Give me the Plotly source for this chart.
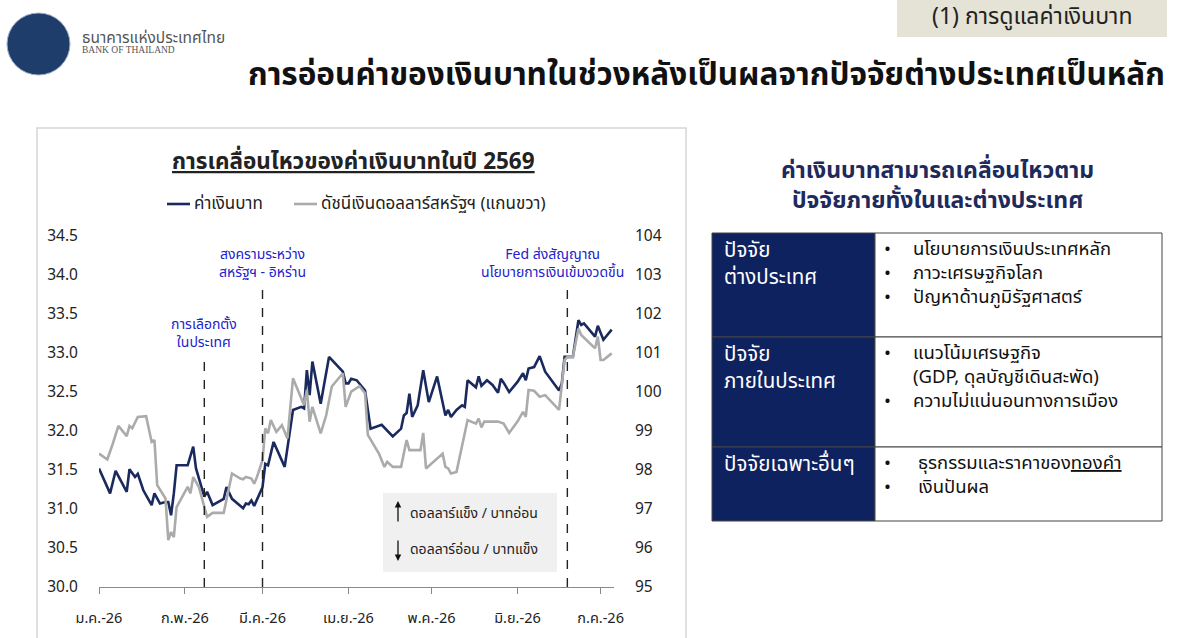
import plotly.graph_objects as go

W, H = 1200, 638
def px(x): return x / W
def py(y): return 1 - y / H

FONT = "Noto Sans Thai, Noto Sans, sans-serif"
NAVY = "#1b2a5e"
GRAY = "#ababab"
BLUE = "#2222cc"

# ---------------- data ----------------
baht_dates = [
    "2026-01-01", "2026-01-05", "2026-01-07", "2026-01-09", "2026-01-11", "2026-01-12", "2026-01-14",
    "2026-01-15", "2026-01-17", "2026-01-20", "2026-01-21", "2026-01-23", "2026-01-25", "2026-01-26",
    "2026-01-27", "2026-01-28", "2026-01-29",
    "2026-02-02", "2026-02-04", "2026-02-05", "2026-02-08", "2026-02-09", "2026-02-11", "2026-02-15",
    "2026-02-16", "2026-02-18", "2026-02-22", "2026-02-23", "2026-02-24", "2026-02-25", "2026-02-26",
    "2026-03-01", "2026-03-02", "2026-03-03", "2026-03-05", "2026-03-09", "2026-03-12", "2026-03-15",
    "2026-03-16", "2026-03-17", "2026-03-18", "2026-03-19", "2026-03-22", "2026-03-23", "2026-03-25",
    "2026-03-30", "2026-03-31",
    "2026-04-01", "2026-04-02", "2026-04-04", "2026-04-06", "2026-04-07", "2026-04-09", "2026-04-13",
    "2026-04-17", "2026-04-20", "2026-04-21", "2026-04-22", "2026-04-23", "2026-04-24", "2026-04-26",
    "2026-04-28", "2026-04-30",
    "2026-05-03", "2026-05-06", "2026-05-07", "2026-05-08", "2026-05-10", "2026-05-12", "2026-05-13",
    "2026-05-14", "2026-05-17", "2026-05-18", "2026-05-19", "2026-05-21", "2026-05-23", "2026-05-25",
    "2026-05-26", "2026-05-27", "2026-05-29",
    "2026-06-01", "2026-06-03", "2026-06-04", "2026-06-05", "2026-06-07", "2026-06-09", "2026-06-11",
    "2026-06-16", "2026-06-17", "2026-06-18", "2026-06-21", "2026-06-23", "2026-06-24", "2026-06-25",
    "2026-06-29", "2026-06-30",
    "2026-07-02", "2026-07-05",
]
baht_values = [
    31.52, 31.20, 31.49, 31.35, 31.22, 31.51, 31.41,
    31.45, 31.24, 31.05, 31.20, 31.07, 31.09, 31.09,
    30.92, 31.20, 31.56,
    31.56, 31.80, 31.52, 31.16, 31.22, 31.05, 31.13,
    31.28, 31.13, 31.01, 31.07, 31.06, 31.11, 31.04,
    31.28, 31.58, 31.56, 31.86, 31.54, 32.27, 32.31,
    32.29, 32.78, 32.46, 32.89, 32.35, 32.55, 32.95,
    32.76, 32.61,
    32.61, 32.67, 32.65, 32.57, 32.52, 32.03, 32.08,
    31.93, 32.03, 32.20, 32.23, 32.48, 32.18, 32.33,
    32.78, 32.37,
    32.70, 32.20, 32.27, 32.18, 32.27, 32.33, 32.31,
    32.65, 32.56, 32.70, 32.58, 32.65, 32.59, 32.49,
    32.67, 32.62, 32.50,
    32.63, 32.74, 32.65, 32.80, 32.82, 32.96, 32.76,
    32.52, 32.61, 32.95, 32.95, 33.42, 33.36, 33.38,
    33.21, 33.35,
    33.17, 33.30,
]

dxy_dates = [
    "2026-01-01", "2026-01-04", "2026-01-06", "2026-01-08", "2026-01-11", "2026-01-12", "2026-01-13",
    "2026-01-15", "2026-01-18", "2026-01-20", "2026-01-21", "2026-01-22", "2026-01-25", "2026-01-26",
    "2026-01-27", "2026-01-28", "2026-01-29",
    "2026-02-02", "2026-02-03", "2026-02-04", "2026-02-06", "2026-02-09", "2026-02-11", "2026-02-15",
    "2026-02-18", "2026-02-21", "2026-02-22", "2026-02-23", "2026-02-25", "2026-02-26", "2026-02-27",
    "2026-03-01", "2026-03-02", "2026-03-03", "2026-03-04", "2026-03-06", "2026-03-08", "2026-03-10",
    "2026-03-12", "2026-03-16", "2026-03-17", "2026-03-18", "2026-03-19", "2026-03-22", "2026-03-24",
    "2026-03-26", "2026-03-30", "2026-03-31",
    "2026-04-02", "2026-04-05", "2026-04-07", "2026-04-08", "2026-04-12", "2026-04-14", "2026-04-15",
    "2026-04-17", "2026-04-20", "2026-04-22", "2026-04-23", "2026-04-25", "2026-04-27", "2026-04-28",
    "2026-04-29",
    "2026-05-05", "2026-05-06", "2026-05-07", "2026-05-08", "2026-05-10", "2026-05-14", "2026-05-17",
    "2026-05-18", "2026-05-19", "2026-05-20", "2026-05-23", "2026-05-25", "2026-05-27", "2026-05-29",
    "2026-06-01", "2026-06-03", "2026-06-04", "2026-06-05", "2026-06-07", "2026-06-09", "2026-06-11",
    "2026-06-16", "2026-06-18", "2026-06-19", "2026-06-21", "2026-06-23", "2026-06-24", "2026-06-29",
    "2026-06-30",
    "2026-07-01", "2026-07-02", "2026-07-05",
]
dxy_values = [
    98.42, 98.27, 98.68, 99.13, 98.87, 99.13, 99.07,
    99.36, 99.38, 98.72, 98.77, 97.61, 97.27, 96.20,
    96.41, 96.28, 97.05,
    97.57, 97.40, 97.82, 97.57, 96.80, 96.90, 96.90,
    97.91, 97.78, 97.76, 97.82, 97.78, 97.65, 97.82,
    98.25, 99.07, 98.94, 99.28, 98.98, 99.15, 98.81,
    100.35, 99.66, 100.05, 99.24, 99.62, 98.94, 99.41,
    100.14, 100.48, 99.62,
    100.01, 100.15, 99.97, 98.90, 98.42, 98.08, 98.21,
    98.08, 98.08, 98.77, 98.51, 98.51, 98.51, 98.95,
    98.04,
    98.42, 98.08, 98.04, 97.91, 97.95, 99.28, 99.19,
    99.32, 99.09, 99.24, 99.24, 99.24, 99.19, 98.95,
    99.24, 99.49, 99.36, 100.05, 100.03, 99.88, 99.92,
    99.54, 100.82, 100.90, 100.90, 101.63, 101.46, 101.12,
    101.42,
    100.82, 100.82, 100.99,
]

month_ticks = ["2026-01-01", "2026-02-01", "2026-03-01", "2026-04-01",
               "2026-05-01", "2026-06-01", "2026-07-01"]
month_labels = ["ม.ค.-26", "ก.พ.-26", "มี.ค.-26", "เม.ย.-26", "พ.ค.-26", "มิ.ย.-26", "ก.ค.-26"]
left_ticks = [30.0, 30.5, 31.0, 31.5, 32.0, 32.5, 33.0, 33.5, 34.0, 34.5]
right_ticks = [95, 96, 97, 98, 99, 100, 101, 102, 103, 104]

event_dates = ["2026-02-08", "2026-03-01", "2026-06-19"]
event_labels = ["การเลือกตั้ง<br>ในประเทศ", "สงครามระหว่าง<br>สหรัฐฯ - อิหร่าน",
                "Fed ส่งสัญญาณ<br>นโยบายการเงินเข้มงวดขึ้น"]
event_line_top = [357, 290, 290]
event_label_y = [333, 263, 263]
event_label_shift = [0, 0, -15]

series_names = ["ค่าเงินบาท", "ดัชนีเงินดอลลาร์สหรัฐฯ (แกนขวา)"]

table_heads = [["ปัจจัย", "ต่างประเทศ"], ["ปัจจัย", "ภายในประเทศ"], ["ปัจจัยเฉพาะอื่นๆ"]]
table_items = [
    ["นโยบายการเงินประเทศหลัก", "ภาวะเศรษฐกิจโลก", "ปัญหาด้านภูมิรัฐศาสตร์"],
    ["แนวโน้มเศรษฐกิจ", "(GDP, ดุลบัญชีเดินสะพัด)", "ความไม่แน่นอนทางการเมือง"],
    ["ธุรกรรมและราคาของ<u>ทองคำ</u>", "เงินปันผล"],
]
table_bullets = [[True, True, True], [True, False, True], [True, True]]


def txt(x, y, text, size, color="#222222", xanchor="center", family=FONT, **kw):
    d = dict(xref="paper", yref="paper", x=px(x), y=py(y), text=text, showarrow=False,
             xanchor=xanchor, yanchor="middle", font=dict(family=family, size=size, color=color))
    d.update(kw)
    return d


# ---------------- figure ----------------
fig = go.Figure()
fig.add_trace(go.Scatter(x=dxy_dates, y=dxy_values, mode="lines", name=series_names[1],
                         line=dict(color=GRAY, width=2.6), yaxis="y2", showlegend=False))
fig.add_trace(go.Scatter(x=baht_dates, y=baht_values, mode="lines", name=series_names[0],
                         line=dict(color=NAVY, width=2.6), yaxis="y", showlegend=False))

shapes = []
ann = []

# panel border
shapes.append(dict(type="rect", xref="paper", yref="paper", x0=px(37), x1=px(686), y0=py(645), y1=py(128),
                   line=dict(color="#d6d6d6", width=1.5), fillcolor="rgba(0,0,0,0)", layer="below"))
# info box
shapes.append(dict(type="rect", xref="paper", yref="paper", x0=px(383), x1=px(557), y0=py(572), y1=py(493),
                   line=dict(width=0), fillcolor="#f0f0f0", layer="below"))

# event lines + labels
for d, lab, top, ly, sh in zip(event_dates, event_labels, event_line_top, event_label_y, event_label_shift):
    shapes.append(dict(type="line", xref="x", yref="paper", x0=d, x1=d, y0=py(587), y1=py(top),
                       line=dict(color="#222222", width=1.4, dash="dash")))
    ann.append(dict(xref="x", yref="paper", x=d, y=py(ly), text=lab, showarrow=False, xshift=sh,
                    xanchor="center", yanchor="middle",
                    font=dict(family=FONT, size=14, color=BLUE), align="center"))

# header: logo
shapes.append(dict(type="circle", xref="paper", yref="paper", x0=px(7), x1=px(70), y0=py(75), y1=py(13),
                   line=dict(color="#9fb0c8", width=1), fillcolor="#1f3d6b"))
ann.append(txt(80, 37, "ธนาคารแห่งประเทศไทย", 15.5, "#555555", "left", "Liberation Serif, " + FONT))
ann.append(txt(80, 50, "BANK OF THAILAND", 9.5, "#555555", "left", "Liberation Serif"))

# top-right tag
shapes.append(dict(type="rect", xref="paper", yref="paper", x0=px(897), x1=px(1167), y0=py(37), y1=py(-2),
                   line=dict(width=0), fillcolor="#e4e3d6"))
ann.append(txt(1032, 17, "(1) การดูแลค่าเงินบาท", 23, "#222222"))

# main title
ann.append(txt(706, 75, "<b>การอ่อนค่าของเงินบาทในช่วงหลังเป็นผลจากปัจจัยต่างประเทศเป็นหลัก</b>", 31.5, "#111111"))

# chart title
ann.append(txt(353, 162, "<b><u>การเคลื่อนไหวของค่าเงินบาทในปี 2569</u></b>", 22.5, "#222222"))

# legend (custom)
for (x0, x1), name, col in zip([(167, 190), (294, 317)], series_names, [NAVY, GRAY]):
    shapes.append(dict(type="line", xref="paper", yref="paper", x0=px(x0), x1=px(x1), y0=py(204), y1=py(204),
                       line=dict(color=col, width=2.6)))
    ann.append(txt(x1 + 2, 204, name, 17, "#222222", "left"))

# info box contents
ann.append(dict(xref="paper", yref="paper", x=px(398), y=py(501), ax=0, ay=22, text="", showarrow=True,
                arrowhead=2, arrowsize=1, arrowwidth=1.3, arrowcolor="#111111"))
ann.append(dict(xref="paper", yref="paper", x=px(398), y=py(561), ax=0, ay=-22, text="", showarrow=True,
                arrowhead=2, arrowsize=1, arrowwidth=1.3, arrowcolor="#111111"))
ann.append(txt(408, 513, "ดอลลาร์แข็ง / บาทอ่อน", 14, "#222222", "left"))
ann.append(txt(408, 549, "ดอลลาร์อ่อน / บาทแข็ง", 14, "#222222", "left"))

# right heading
ann.append(txt(937, 186, "<b>ค่าเงินบาทสามารถเคลื่อนไหวตาม<br>ปัจจัยภายทั้งในและต่างประเทศ</b>", 23,
               "#1f2a5c", align="center"))

# table
row_edges = [233, 337, 447, 521]
tx0, tsplit, tx1 = 712, 875, 1162
for i in range(3):
    shapes.append(dict(type="rect", xref="paper", yref="paper", x0=px(tx0), x1=px(tsplit),
                       y0=py(row_edges[i + 1]), y1=py(row_edges[i]),
                       line=dict(color="#444444", width=1), fillcolor="#0f2260"))
    shapes.append(dict(type="rect", xref="paper", yref="paper", x0=px(tsplit), x1=px(tx1),
                       y0=py(row_edges[i + 1]), y1=py(row_edges[i]),
                       line=dict(color="#444444", width=1), fillcolor="#ffffff"))
    heads = table_heads[i]
    ann.append(txt(722, row_edges[i] + 17 + 13.5 * (len(heads) - 1), "<br>".join(heads), 20.5, "#ffffff",
                   "left", align="left"))
    items = table_items[i]
    yc = row_edges[i] + 16 + 12 * (len(items) - 1)
    text_x = 911 if i < 2 else 916
    bullets = "<br>".join("•" if b else " " for b in table_bullets[i])
    ann.append(txt(887, yc, bullets, 18.5, "#111111", align="center"))
    ann.append(txt(text_x, yc, "<br>".join(items), 18.5, "#111111", "left", align="left"))

fig.update_layout(
    width=W, height=H, margin=dict(l=0, r=0, t=0, b=0, pad=0, autoexpand=False),
    paper_bgcolor="white", plot_bgcolor="white",
    showlegend=False,
    xaxis=dict(domain=[px(99), px(614)], type="date", range=["2026-01-01", "2026-07-05 20:00"],
               tickmode="array", tickvals=month_ticks, ticktext=month_labels, automargin=False,
               showline=True, linecolor="#8a8a8a", linewidth=1, ticks="outside", ticklen=6,
               tickcolor="#8a8a8a", showgrid=False, zeroline=False,
               tickfont=dict(family=FONT, size=14.5, color="#222222"), ticklabelstandoff=12),
    yaxis=dict(domain=[py(587), py(236)], range=[30, 34.5], tickmode="array", tickvals=left_ticks,
               tickformat=".1f", showgrid=False, zeroline=False, showline=False, ticks="", automargin=False,
               tickfont=dict(family=FONT, size=15.5, color="#222222"), ticklabelstandoff=20),
    yaxis2=dict(domain=[py(587), py(236)], range=[95, 104], overlaying="y", side="right", anchor="x",
                tickmode="array", tickvals=right_ticks, showgrid=False, zeroline=False, showline=False,
                ticks="", automargin=False, tickfont=dict(family=FONT, size=15.5, color="#222222"),
                ticklabelstandoff=20),
    shapes=shapes, annotations=ann,
)

fig.write_html("out.html")
